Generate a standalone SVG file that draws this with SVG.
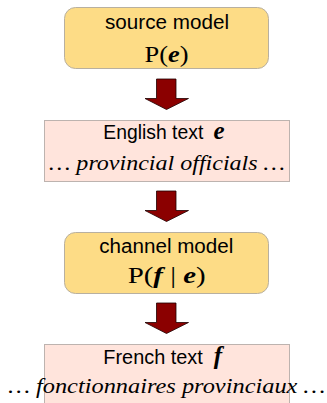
<svg xmlns="http://www.w3.org/2000/svg" width="327" height="403" viewBox="0 0 327 403">
<style>
.model{fill:#FDDC86;stroke:#B8B0A0;stroke-width:1}
.text{fill:#FFE4DC;stroke:#BDB3AF;stroke-width:1}
.sans{font-family:"Liberation Sans","DejaVu Sans",sans-serif;font-size:20px;fill:#000}
.math{font-family:"Liberation Serif","DejaVu Serif",serif;font-size:23px;fill:#000;text-anchor:middle}
.ital{font-family:"Liberation Serif","DejaVu Serif",serif;font-style:italic;font-size:21px;fill:#000;text-anchor:middle}
.bi{font-weight:bold;font-style:italic}
.big{font-size:25px}
.arrow{fill:#8B0000;stroke:#200000;stroke-width:0.8;stroke-linejoin:miter}
</style>
<defs>
<path id="arr" class="arrow" d="M156.5,0 H176 V19.5 H188.5 L166.5,30.5 L145,19.5 H156.5 Z"/>
</defs>
<g id="connectors">
<use href="#arr" y="79"/>
<use href="#arr" y="191"/>
<use href="#arr" y="303"/>
</g>
<g id="source-model">
<rect class="model" x="64.5" y="7.5" width="204" height="61" rx="11" ry="11"/>
<text class="sans" x="105" y="28.5" textLength="124" lengthAdjust="spacingAndGlyphs">source model</text>
<text class="math" x="166.5" y="61.5" textLength="44" lengthAdjust="spacingAndGlyphs">P(<tspan class="bi">e</tspan>)</text>
</g>
<g id="english-text">
<rect class="text" x="44.5" y="120.5" width="245" height="61"/>
<text class="sans" x="103.3" y="139" textLength="100" lengthAdjust="spacingAndGlyphs">English text</text>
<text class="math bi big" x="219" y="139">e</text>
<text class="ital" x="167" y="170" textLength="236" lengthAdjust="spacingAndGlyphs">… provincial officials …</text>
</g>
<g id="channel-model">
<rect class="model" x="64.5" y="232.5" width="204" height="61" rx="11" ry="11"/>
<text class="sans" x="99.3" y="253.3" textLength="134" lengthAdjust="spacingAndGlyphs">channel model</text>
<text class="math" x="166.7" y="283.3" textLength="78" lengthAdjust="spacingAndGlyphs">P(<tspan class="bi">f</tspan> | <tspan class="bi">e</tspan>)</text>
</g>
<g id="french-text">
<rect class="text" x="44.5" y="344.5" width="245" height="62"/>
<text class="sans" x="103.3" y="363.5" textLength="99.5" lengthAdjust="spacingAndGlyphs">French text</text>
<text class="math bi big" x="218" y="363.5">f</text>
<text class="ital" x="166.7" y="393" textLength="317" lengthAdjust="spacingAndGlyphs">… fonctionnaires provinciaux …</text>
</g>
</svg>
